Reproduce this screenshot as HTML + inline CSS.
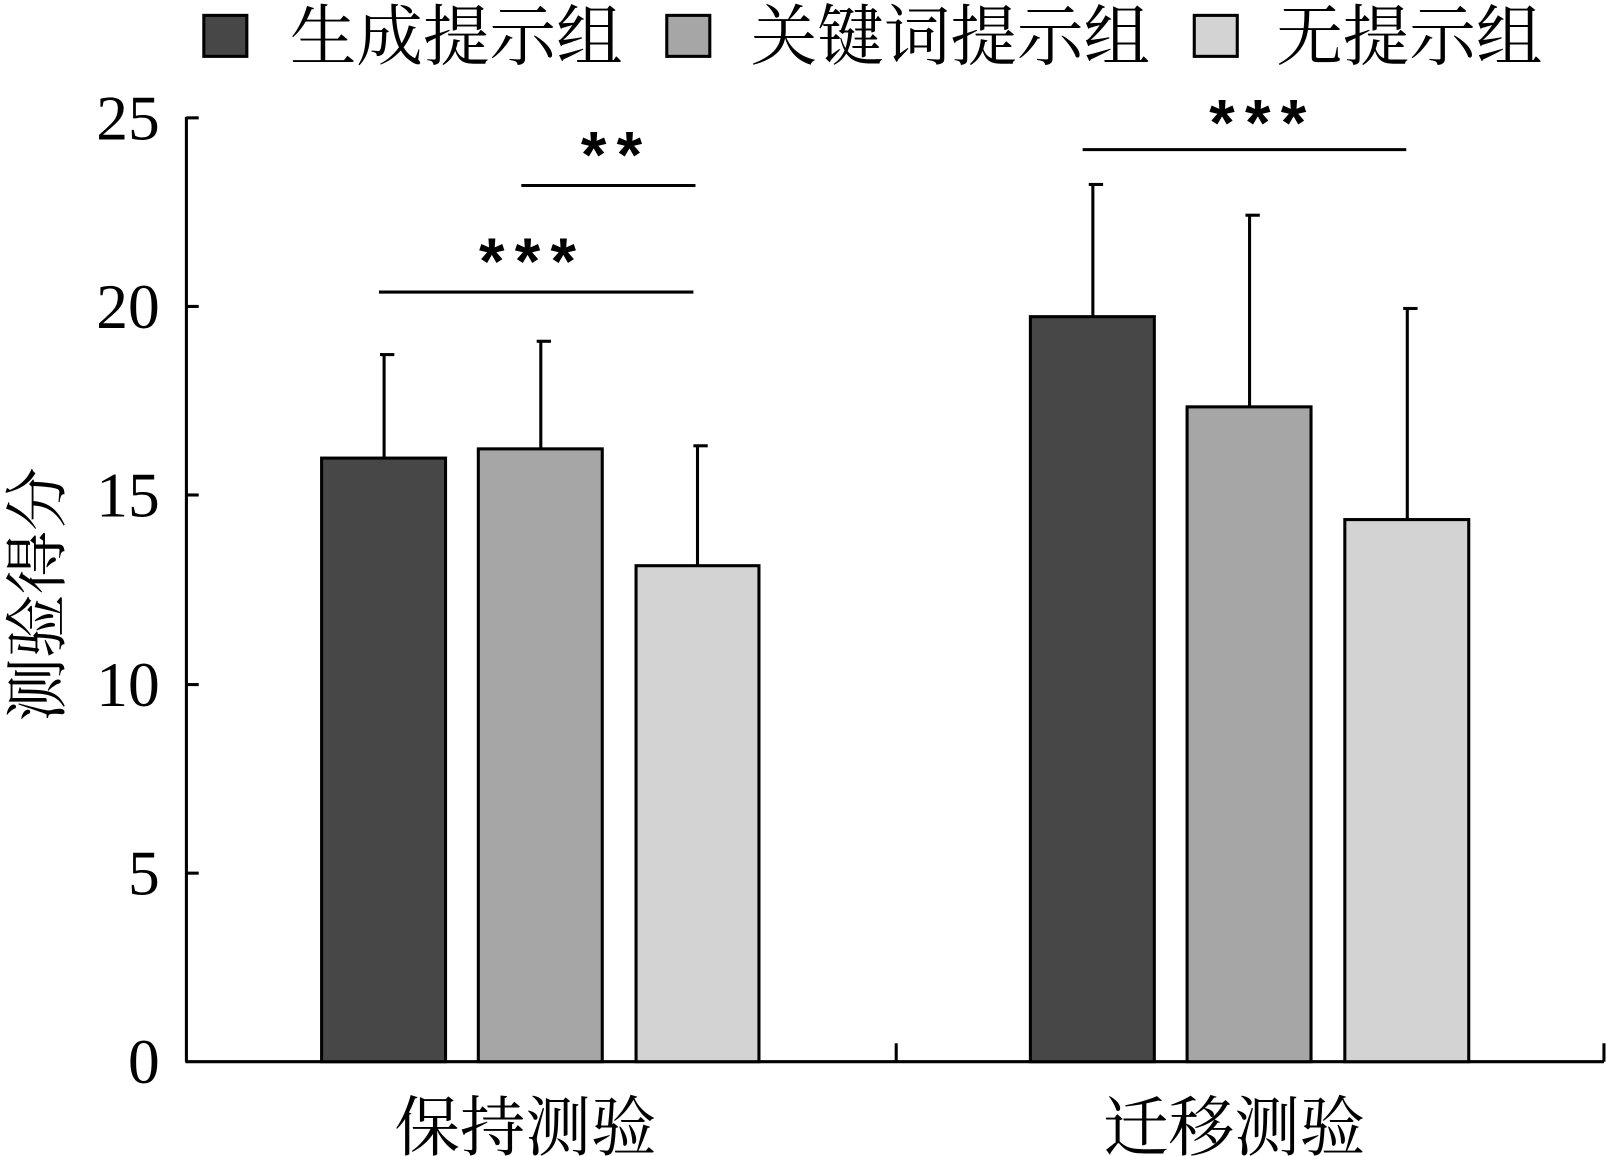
<!DOCTYPE html>
<html><head><meta charset="utf-8"><style>html,body{margin:0;padding:0;background:#fff}svg{display:block}</style></head>
<body>
<svg width="1606" height="1156" viewBox="0 0 1568 1128" preserveAspectRatio="none" xmlns="http://www.w3.org/2000/svg">
<g font-family="'Liberation Serif','Noto Serif CJK SC',serif" fill="#000">
<!-- legend -->
<rect x="199" y="15" width="42" height="40" fill="#474747" stroke="#000" stroke-width="3"/>
<text x="283" y="58" font-size="65">生成提示组</text>
<rect x="651" y="15" width="42" height="40" fill="#a6a6a6" stroke="#000" stroke-width="3"/>
<text x="733" y="58" font-size="65">关键词提示组</text>
<rect x="1166" y="15" width="42" height="40" fill="#d3d3d3" stroke="#000" stroke-width="3"/>
<text x="1246" y="58" font-size="65">无提示组</text>
<!-- y ticks labels -->
<g font-size="62" text-anchor="end">
<text x="156" y="136">25</text>
<text x="156" y="320">20</text>
<text x="156" y="504">15</text>
<text x="156" y="689">10</text>
<text x="156" y="873">5</text>
<text x="156" y="1057">0</text>
</g>
<text transform="translate(58,580) rotate(-90)" font-size="62" text-anchor="middle">测验得分</text>
<g font-size="64" text-anchor="middle">
<text x="513" y="1122">保持测验</text>
<text x="1205" y="1122">迁移测验</text>
</g>
</g>
<g stroke="#000" stroke-width="3">
<line x1="182" y1="114" x2="182" y2="1036"/>
<line x1="181" y1="1036" x2="1566" y2="1036"/>
<line x1="182" y1="115" x2="194" y2="115"/>
<line x1="182" y1="299" x2="194" y2="299"/>
<line x1="182" y1="483" x2="194" y2="483"/>
<line x1="182" y1="668" x2="194" y2="668"/>
<line x1="182" y1="852" x2="194" y2="852"/>
<line x1="875" y1="1036" x2="875" y2="1018"/>
<line x1="1566" y1="1036" x2="1566" y2="1018"/>
<!-- error bars -->
<line x1="375" y1="447" x2="375" y2="345"/><line x1="371" y1="346" x2="385" y2="346"/>
<line x1="528" y1="438" x2="528" y2="332"/><line x1="524" y1="333" x2="538" y2="333"/>
<line x1="681" y1="552" x2="681" y2="434"/><line x1="677" y1="435" x2="691" y2="435"/>
<line x1="1067" y1="309" x2="1067" y2="179"/><line x1="1063" y1="180" x2="1077" y2="180"/>
<line x1="1220" y1="397" x2="1220" y2="209"/><line x1="1216" y1="210" x2="1230" y2="210"/>
<line x1="1374" y1="507" x2="1374" y2="300"/><line x1="1370" y1="301" x2="1384" y2="301"/>
<!-- sig lines -->
<line x1="370" y1="285" x2="677" y2="285"/>
<line x1="509" y1="181" x2="679" y2="181"/>
<line x1="1057" y1="146" x2="1373" y2="146"/>
</g>
<g stroke="#000" stroke-width="3">
<rect x="314" y="447" width="121" height="589" fill="#474747"/>
<rect x="467" y="438" width="121" height="598" fill="#a6a6a6"/>
<rect x="621" y="552" width="120" height="484" fill="#d3d3d3"/>
<rect x="1006" y="309" width="121" height="727" fill="#474747"/>
<rect x="1159" y="397" width="121" height="639" fill="#a6a6a6"/>
<rect x="1313" y="507" width="121" height="529" fill="#d3d3d3"/>
</g>
<g font-family="'Liberation Sans',sans-serif" font-weight="bold" font-size="64" letter-spacing="10" text-anchor="middle" fill="#000">
<text x="520" y="277">***</text>
<text x="602" y="173">**</text>
<text x="1233" y="142">***</text>
</g>
</svg>
</body></html>
